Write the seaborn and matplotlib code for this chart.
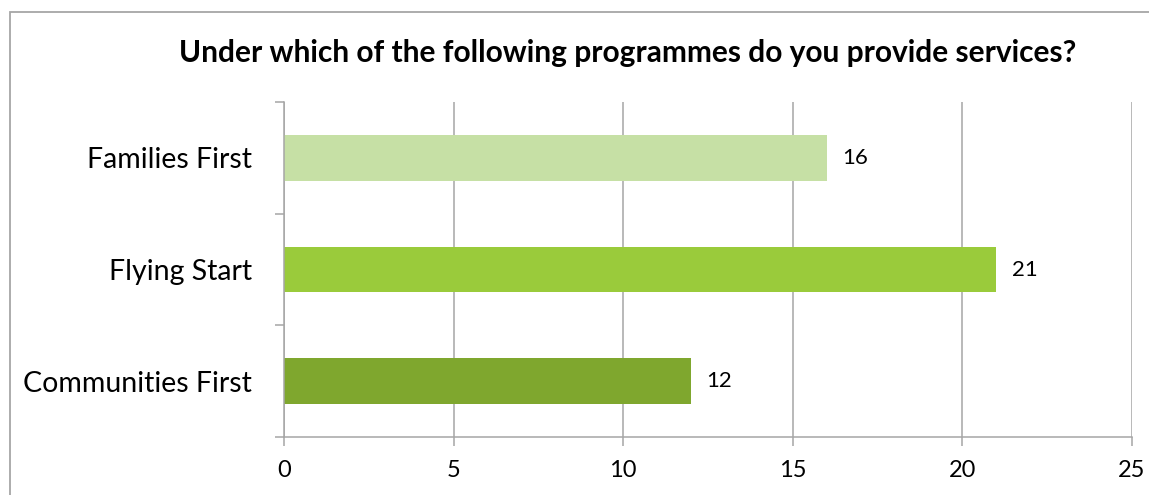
import matplotlib
matplotlib.use("Agg")
import matplotlib.pyplot as plt
from matplotlib.patches import Rectangle
from matplotlib.ticker import FixedLocator
import seaborn as sns
import pandas as pd

categories = ["Families First", "Flying Start", "Communities First"]
values = [16, 21, 12]
colors = ["#C6E0A5", "#9ACB3B", "#7FA72E"]
x_ticks = [0, 5, 10, 15, 20, 25]
title = "Under which of the following programmes do you provide services?"

sns.set_theme(style="white")
plt.rcParams["font.family"] = ["Lato", "DejaVu Sans"]

df = pd.DataFrame({"category": categories, "value": values})

fig = plt.figure(figsize=(11.49, 4.95), dpi=100)
ax = fig.add_axes([284/1149, 1-437/495, (1132-284)/1149, (437-102)/495])

sns.barplot(data=df, y="category", x="value", hue="category",
            palette=dict(zip(categories, colors)), order=categories,
            width=0.41, legend=False, ax=ax, saturation=1, linewidth=0)

ax.set_xlim(0, 25)
ax.set_ylim(2.5, -0.5)
ax.set_xticks(x_ticks)
ax.set_xticklabels([str(t) for t in x_ticks], fontsize=17)
ax.set_xlabel("")
ax.set_ylabel("")
ax.xaxis.grid(True, color="#A6A6A6", linewidth=1.1)
ax.yaxis.grid(False)
ax.set_axisbelow(True)

for s in ["top", "right"]:
    ax.spines[s].set_visible(False)
for s in ["left", "bottom"]:
    ax.spines[s].set_visible(True)
    ax.spines[s].set_color("#A6A6A6")
    ax.spines[s].set_linewidth(1.1)

ax.tick_params(axis="x", which="major", length=6.5, width=1.1, color="#A6A6A6",
               direction="out", bottom=True, pad=10, labelcolor="black")
ax.tick_params(axis="y", which="major", length=0, pad=23, labelsize=20.5, labelcolor="black")
ax.yaxis.set_minor_locator(FixedLocator([-0.5, 0.5, 1.5, 2.5]))
ax.tick_params(axis="y", which="minor", length=6.5, width=1.1, color="#A6A6A6",
               direction="out", left=True)

for c in ax.containers:
    ax.bar_label(c, padding=11, fontsize=16, color="black")

fig.text((181+1075)/2/1149, 1-53/495, title, ha="center", va="center",
         fontsize=21.5, fontweight="bold", color="black")

fig.patches.append(Rectangle((10/1149, -0.1), 1.2, 1-12/495+0.1,
                             transform=fig.transFigure, fill=False,
                             edgecolor="#A6A6A6", linewidth=1.3))

fig.savefig("out.png", dpi=100)
